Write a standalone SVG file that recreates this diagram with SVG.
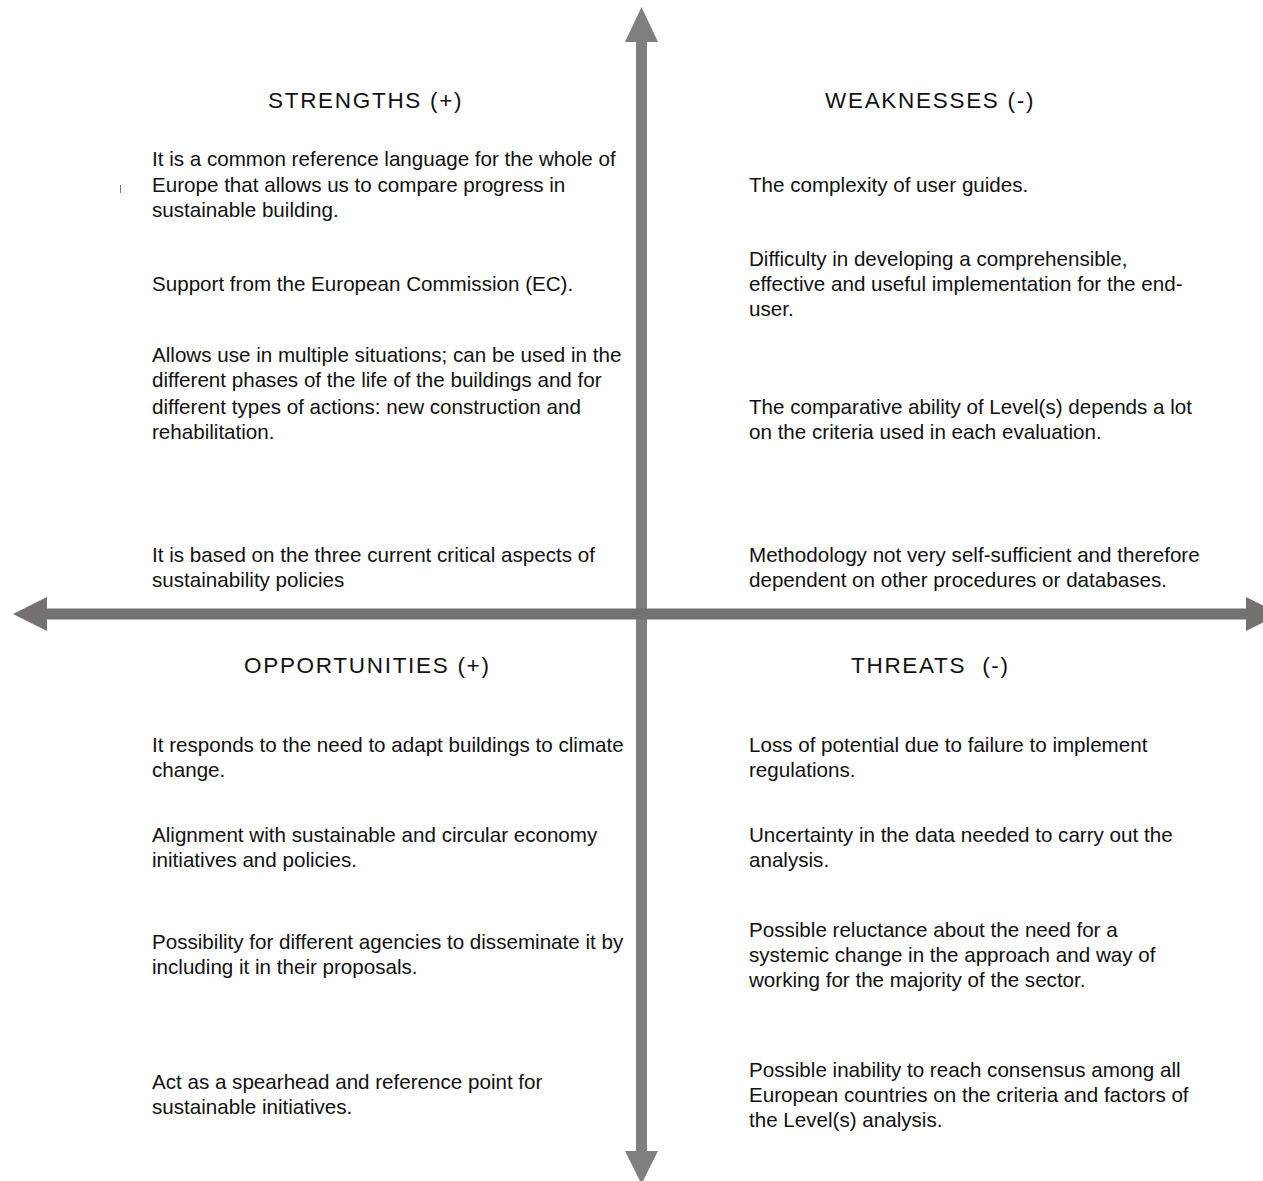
<svg xmlns="http://www.w3.org/2000/svg" width="1263" height="1181" viewBox="0 0 1263 1181">
  <style>
    .t { font-family: "Liberation Sans", Arial, sans-serif; font-size: 20.6px; fill: #111; }
    .h { font-family: "Liberation Sans", Arial, sans-serif; font-size: 22.5px; fill: #111; letter-spacing: 1.7px; }
    .axv { fill: #7f7f7f; }
    .axh { fill: #767171; }
  </style>
  <rect width="1263" height="1181" fill="#fff"/>

  <!-- axes -->
  <g id="connectors">
    <polygon class="axv" points="641.5,7 658,42 647,42 647,1151 658,1151 641.5,1184 625,1151 636,1151 636,42 625,42"/>
    <polygon class="axh" points="13,614 47,597 47,608.5 1246,608.5 1246,597 1280,614 1246,631 1246,619.5 47,619.5 47,631"/>
  </g>

  <line x1="120.5" y1="185" x2="120.5" y2="193" stroke="#777" stroke-width="1"/>

  <g id="strengths">
    <text class="h" x="268" y="108">STRENGTHS (+)</text>
    <text class="t" x="152" y="166">It is a common reference language for the whole of</text>
    <text class="t" x="152" y="192">Europe that allows us to compare progress in</text>
    <text class="t" x="152" y="217">sustainable building.</text>
    <text class="t" x="152" y="291">Support from the European Commission (EC).</text>
    <text class="t" x="152" y="362">Allows use in multiple situations; can be used in the</text>
    <text class="t" x="152" y="387">different phases of the life of the buildings and for</text>
    <text class="t" x="152" y="414">different types of actions: new construction and</text>
    <text class="t" x="152" y="439">rehabilitation.</text>
    <text class="t" x="152" y="562">It is based on the three current critical aspects of</text>
    <text class="t" x="152" y="587">sustainability policies</text>
  </g>

  <g id="weaknesses">
    <text class="h" x="825" y="108">WEAKNESSES (-)</text>
    <text class="t" x="749" y="192">The complexity of user guides.</text>
    <text class="t" x="749" y="266">Difficulty in developing a comprehensible,</text>
    <text class="t" x="749" y="291">effective and useful implementation for the end-</text>
    <text class="t" x="749" y="316">user.</text>
    <text class="t" x="749" y="414">The comparative ability of Level(s) depends a lot</text>
    <text class="t" x="749" y="439">on the criteria used in each evaluation.</text>
    <text class="t" x="749" y="562">Methodology not very self-sufficient and therefore</text>
    <text class="t" x="749" y="587">dependent on other procedures or databases.</text>
  </g>

  <g id="opportunities">
    <text class="h" x="244" y="673">OPPORTUNITIES (+)</text>
    <text class="t" x="152" y="752">It responds to the need to adapt buildings to climate</text>
    <text class="t" x="152" y="777">change.</text>
    <text class="t" x="152" y="842">Alignment with sustainable and circular economy</text>
    <text class="t" x="152" y="867">initiatives and policies.</text>
    <text class="t" x="152" y="949">Possibility for different agencies to disseminate it by</text>
    <text class="t" x="152" y="974">including it in their proposals.</text>
    <text class="t" x="152" y="1089">Act as a spearhead and reference point for</text>
    <text class="t" x="152" y="1114">sustainable initiatives.</text>
  </g>

  <g id="threats">
    <text class="h" x="851" y="673" xml:space="preserve">THREATS  (-)</text>
    <text class="t" x="749" y="752">Loss of potential due to failure to implement</text>
    <text class="t" x="749" y="777">regulations.</text>
    <text class="t" x="749" y="842">Uncertainty in the data needed to carry out the</text>
    <text class="t" x="749" y="867">analysis.</text>
    <text class="t" x="749" y="937">Possible reluctance about the need for a</text>
    <text class="t" x="749" y="962">systemic change in the approach and way of</text>
    <text class="t" x="749" y="987">working for the majority of the sector.</text>
    <text class="t" x="749" y="1077">Possible inability to reach consensus among all</text>
    <text class="t" x="749" y="1102">European countries on the criteria and factors of</text>
    <text class="t" x="749" y="1127">the Level(s) analysis.</text>
  </g>
</svg>
